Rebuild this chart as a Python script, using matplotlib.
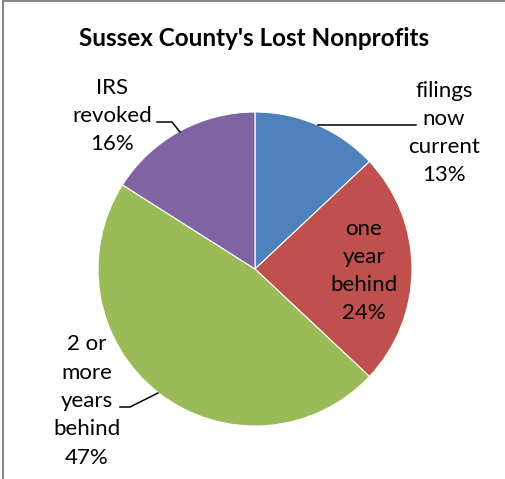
import matplotlib.pyplot as plt
from matplotlib.lines import Line2D

# Status of Sussex County nonprofits that lost their exemption
categories = ["filings\nnow\ncurrent", "one\nyear\nbehind", "2 or\nmore\nyears\nbehind", "IRS\nrevoked"]
shares = [13, 24, 47, 16]
colors = ["#4F81BD", "#C0504D", "#9BBB59", "#8064A2"]

W, H = 505, 479
plt.rcParams['font.family'] = ['Lato', 'DejaVu Sans']

fig = plt.figure(figsize=(W / 100, H / 100), dpi=100)
ax = fig.add_axes([0, 0, 1, 1])

# work in pixel units, y measured from the top
def py(y):
    return H - y

ax.pie(shares, colors=colors, startangle=90, counterclock=False,
       center=(255, py(269)), radius=157,
       wedgeprops=dict(edgecolor='white', linewidth=0.8))
ax.set_xlim(0, W)
ax.set_ylim(0, H)
ax.set_aspect('equal')
ax.axis('off')

lab_kw = dict(ha='center', va='center', fontsize=16, linespacing=1.52, color='black')

# label positions (pixel centres) and leader lines
label_pos = [(444, 133), (364, 271), (87, 401), (112, 116)]
for name, val, (x, y) in zip(categories, shares, label_pos):
    ax.text(x, py(y), f"{name}\n{val}%", **lab_kw)

leaders = [
    [(318, 125), (416, 125)],
    None,
    [(120, 407), (130, 407), (158, 393)],
    [(157, 122), (172, 122), (180, 132)],
]
for pts in leaders:
    if pts:
        ax.plot([p[0] for p in pts], [py(p[1]) for p in pts], color='black', lw=1.1)

fig.text(254 / W, 1 - 38 / H, "Sussex County's Lost Nonprofits",
         ha='center', va='center', fontsize=17.5, fontweight='bold')

# chart area border (top and left edges visible)
fig.add_artist(Line2D([3 / W, 3 / W], [0, 1 - 1 / H], color='#888888', lw=1.5,
                      transform=fig.transFigure))
fig.add_artist(Line2D([3 / W, 1], [1 - 1 / H, 1 - 1 / H], color='#888888', lw=1.5,
                      transform=fig.transFigure))

fig.savefig('out.png', dpi=100, facecolor='white')
